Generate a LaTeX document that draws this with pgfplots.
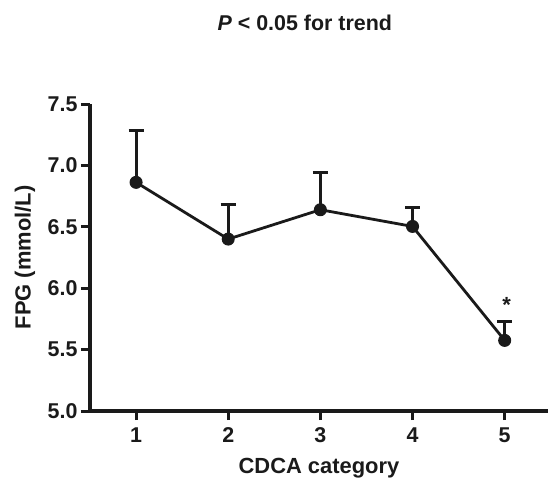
\documentclass[border=0pt]{standalone}
\usepackage{fontspec}
\setmainfont{Liberation Sans}
\usepackage{pgfplots}
\pgfplotsset{compat=1.18}
\definecolor{ink}{HTML}{1A1A1A}

\begin{document}
\begin{tikzpicture}
\begin{axis}[
  scale only axis,
  width=458bp,
  height=307bp,
  xmin=0.5, xmax=5.47,
  ymin=5, ymax=7.5,
  xtick={1,2,3,4,5},
  ytick={5.0,5.5,6.0,6.5,7.0,7.5},
  yticklabel style={/pgf/number format/.cd,fixed,fixed zerofill,precision=1},
  xticklabel style={yshift=-4bp},
  /pgf/number format/assume math mode=true,
  axis x line=bottom,
  axis y line=left,
  axis line style={-, draw=ink, line width=3.2bp},
  tick align=outside,
  major tick length=9bp,
  tick style={draw=ink, line width=3bp},
  tick label style={font=\fontsize{21.5}{24}\selectfont\bfseries, text=ink},
  label style={font=\fontsize{22}{24}\selectfont\bfseries, text=ink},
  xlabel={CDCA category},
  ylabel={FPG (mmol/L)},
  xlabel style={at={(rel axis cs:0.5,-0.186)}, anchor=center},
  ylabel style={at={(rel axis cs:-0.142,0.5)}, anchor=center},
  clip=false,
]
\addplot[
  draw=ink, line width=2.8bp,
  mark=*, mark size=6bp, mark options={fill=ink, draw=ink, line width=1bp},
  error bars/.cd,
    y dir=plus, y explicit,
    error bar style={draw=ink, line width=3bp},
    error mark options={rotate=90, mark size=7.5bp, line width=3bp, draw=ink},
] table[x=x, y=y, y error=e] {
x y     e
1 6.862 0.421
2 6.400 0.278
3 6.639 0.307
4 6.503 0.155
5 5.575 0.155
};
\node[font=\fontsize{22}{24}\selectfont\bfseries, text=ink, anchor=base] at (axis cs:5.02,5.80) {*};
\node[font=\fontsize{21.5}{24}\selectfont\bfseries, text=ink] at (rel axis cs:0.469,1.265) {\textit{P} < 0.05 for trend};
\coordinate (bbll) at (rel axis cs:-0.1965,-0.2345);
\coordinate (bbur) at (rel axis cs:1.0044,1.3388);
\end{axis}
\pgfresetboundingbox
\path (bbll) rectangle (bbur);
\end{tikzpicture}
\end{document}
